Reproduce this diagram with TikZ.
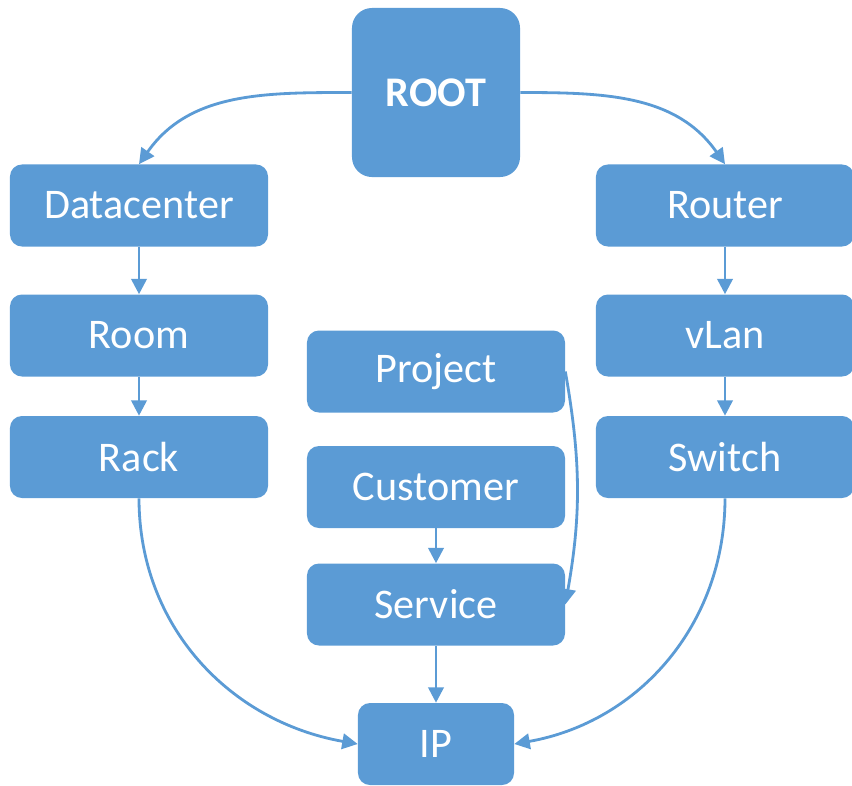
\documentclass[tikz,border=0pt]{standalone}
\usepackage{fontspec}
\setmainfont{Carlito}
\usetikzlibrary{arrows.meta}
\definecolor{boxblue}{RGB}{91,155,213}
\tikzset{
  box/.style={fill=boxblue, text=white, rounded corners=0.3cm, minimum width=6.45cm, minimum height=2.05cm, inner sep=0pt, font=\fontsize{30}{36}\selectfont},
  link/.style={draw=boxblue, line width=2pt, -{Triangle[width=11pt,length=11pt]}}
}
\begin{document}
\begin{tikzpicture}[x=0.025cm,y=-0.025cm]
	\useasboundingbox (0,0) rectangle (852,785);
	\node[box, minimum width=4.2cm, minimum height=4.225cm, rounded corners=0.5cm, font=\fontsize{30}{36}\selectfont\bfseries] (root) at (436,92.5) {ROOT};
	% left column
	\node[box] (dc) at (139,205.5) {Datacenter};
	\node[box] (room) at (139,335.5) {Room};
	\node[box] (rack) at (139,457) {Rack};
	% right column
	\node[box] (router) at (725,205.5) {Router};
	\node[box] (vlan) at (725,335.5) {vLan};
	\node[box] (switch) at (725,457) {Switch};
	% middle
	\node[box] (project) at (436,371.5) {Project};
	\node[box] (customer) at (436,487) {Customer};
	\node[box] (service) at (436,604.5) {Service};
	\node[box, minimum width=3.9cm] (ip) at (436,744) {IP};

	\draw[link] (root.west) to[out=180,in=55] (dc.north);
	\draw[link] (root.east) to[out=0,in=125] (router.north);
	\draw[link] (dc) -- (room);
	\draw[link] (room) -- (rack);
	\draw[link] (router) -- (vlan);
	\draw[link] (vlan) -- (switch);
	\draw[link] (customer) -- (service);
	\draw[link] (service) -- (ip);
	\draw[link] (project.east) to[out=-80,in=80] (service.east);
	\draw[link] (rack.south) to[out=-90,in=170] (ip.west);
	\draw[link] (switch.south) to[out=-90,in=10] (ip.east);
\end{tikzpicture}
\end{document}
